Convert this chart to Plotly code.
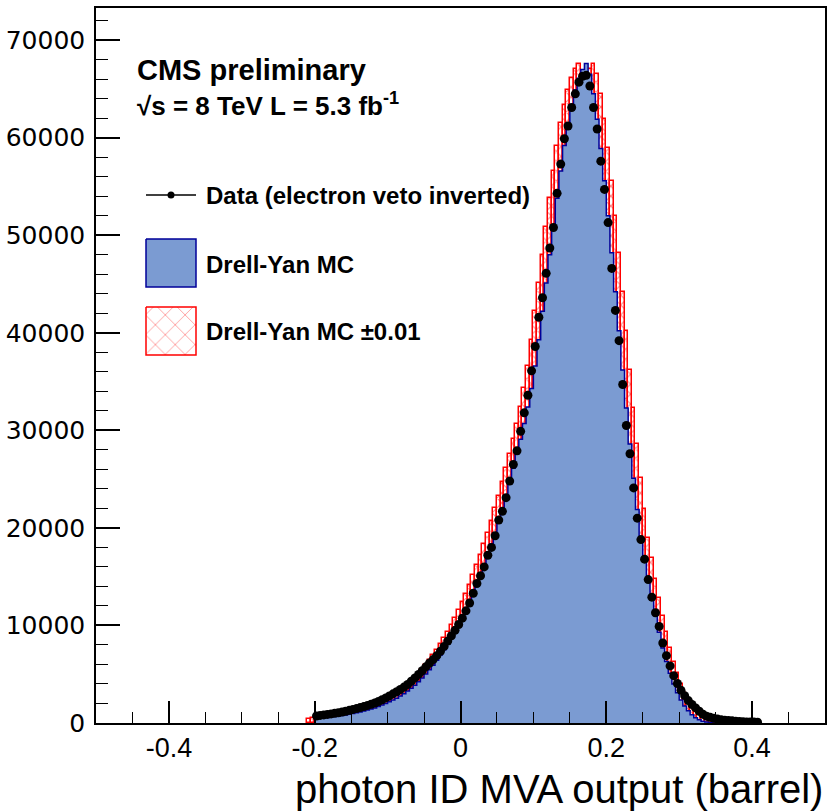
import plotly.graph_objects as go

# histogram binning (photon ID MVA output)
bin_lo = -0.2
bin_w = 0.005

# data (electron veto inverted), one value per bin starting at bin_lo
data_counts = [
    720, 780, 830, 880, 930, 990, 1050, 1120, 1200, 1300,
    1390, 1480, 1580, 1680, 1800, 1920, 2050, 2200, 2380, 2570,
    2780, 2990, 3200, 3430, 3680, 3950, 4280, 4620, 4980, 5360,
    5760, 6150, 6500, 6900, 7350, 7850, 8400, 8950, 9500, 10100,
    10750, 11500, 12300, 13300, 14300, 15100, 16000, 17200, 18000, 19200,
    20800, 21700, 23100, 24800, 26500, 27900, 29900, 31800, 33600, 36100,
    38600, 41600, 43600, 46100, 48700, 50800, 54300, 57300, 59900, 61200,
    63100, 64500, 65700, 66300, 66400, 65300, 63100, 60900, 57600, 54700,
    51300, 46600, 42300, 39200, 34700, 30500, 27600, 24100, 21000, 18800,
    16800, 14700, 12900, 11300, 9900, 8200, 6900, 5850, 4850, 4050,
    3350, 2800, 2300, 1900, 1550, 1200, 900, 700, 580, 480,
    400, 340, 290, 250, 220, 190, 160, 130, 110, 100,
    90, 80,
]

# Drell-Yan MC, same bins
mc_counts = [
    450, 490, 530, 570, 610, 660, 710, 770, 830, 900,
    970, 1050, 1130, 1220, 1320, 1430, 1550, 1690, 1840, 2000,
    2170, 2350, 2550, 2770, 3010, 3270, 3560, 3880, 4230, 4610,
    5020, 5460, 5930, 6430, 6960, 7520, 8110, 8730, 9380, 10060,
    10780, 11550, 12370, 13240, 14160, 15130, 16150, 17220, 18340, 19510,
    20730, 22000, 23320, 24690, 26110, 27580, 29100, 30700, 32400, 34300,
    36600, 39300, 42200, 45100, 48000, 50900, 53800, 56600, 59200, 61500,
    63400, 64900, 66100, 67000, 67600, 66500, 64500, 61900, 58900, 55600,
    52000, 48200, 44200, 40200, 36200, 32300, 28600, 25100, 21900, 19000,
    16900, 14800, 12800, 11000, 9300, 7700, 6300, 5100, 4000, 3100,
    2350, 1750, 1250, 850, 550, 330, 180, 90, 30, 0,
    0, 0, 0, 0, 0, 0, 0, 0, 0, 0,
    0, 0,
]

# MVA shift used for the systematic band (in bins: 0.01 / 0.005)
shift_bins = 2

x_tickvals = [-0.4, -0.2, 0, 0.2, 0.4]
x_ticktext = ["-0.4", "-0.2", "0", "0.2", "0.4"]
y_tickvals = [0, 10000, 20000, 30000, 40000, 50000, 60000, 70000]
y_ticktext = [str(v) for v in y_tickvals]

n = len(data_counts)
centers = [bin_lo + bin_w * (i + 0.5) for i in range(n)]
edges = [bin_lo + bin_w * i for i in range(n + 1)]

# band: MC shifted by +-0.01
pad = [0] * shift_bins
mc_pad = pad + pad + mc_counts + pad + pad
band_x, band_lo, band_h = [], [], []
for j in range(n + 2 * shift_bins):
    k = j + shift_bins
    a = mc_pad[k - shift_bins]
    b = mc_pad[k + shift_bins]
    lo, hi = min(a, b), max(a, b)
    if hi > lo:
        band_x.append(bin_lo + bin_w * (j - shift_bins + 0.5))
        band_lo.append(lo)
        band_h.append(hi - lo)

blue_fill = "#7b9bd2"
blue_line = "#000099"

fig = go.Figure()

# MC histogram (step, filled)
fig.add_trace(go.Scatter(
    x=[edges[0]] + edges[:-1] + [edges[-1]],
    y=[0] + mc_counts + [0],
    mode="lines", line=dict(shape="hv", color=blue_line, width=1.5),
    fill="tozeroy", fillcolor=blue_fill, showlegend=False,
))

# +-0.01 band
fig.add_trace(go.Bar(
    x=band_x, y=band_h, base=band_lo, width=bin_w,
    marker=dict(color="rgba(0,0,0,0)",
                line=dict(color="red", width=1.5),
                pattern=dict(shape="x", fgcolor="red", bgcolor="rgba(0,0,0,0)",
                             size=7, solidity=0.3)),
    showlegend=False,
))

# data
fig.add_trace(go.Scatter(
    x=centers, y=data_counts, mode="markers",
    marker=dict(color="black", size=9),
    error_x=dict(type="constant", value=bin_w / 2, thickness=1, width=0, color="black"),
    showlegend=False,
))

# legend drawn on a pixel-like overlay axis
lx = [146, 196]
fig.add_trace(go.Scatter(x=lx, y=[195, 195], mode="lines", line=dict(color="black", width=1.5),
                         xaxis="x2", yaxis="y2", showlegend=False))
fig.add_trace(go.Scatter(x=[171], y=[195], mode="markers", marker=dict(color="black", size=7),
                         xaxis="x2", yaxis="y2", showlegend=False))
fig.add_trace(go.Scatter(x=[146, 196, 196, 146, 146], y=[239, 239, 287, 287, 239],
                         mode="lines", fill="toself", fillcolor=blue_fill,
                         line=dict(color=blue_line, width=1.5),
                         xaxis="x2", yaxis="y2", showlegend=False))
fig.add_trace(go.Scatter(x=[146, 196, 196, 146, 146], y=[307, 307, 355, 355, 307],
                         mode="lines", fill="toself",
                         fillpattern=dict(shape="x", fgcolor="red", bgcolor="white",
                                          size=14, solidity=0.1),
                         line=dict(color="red", width=1.5),
                         xaxis="x2", yaxis="y2", showlegend=False))

leg_font = dict(family="Liberation Sans, Arial", size=24, color="black")
for txt, yy in [("<b>Data (electron veto inverted)</b>", 195),
                ("<b>Drell-Yan MC</b>", 264),
                ("<b>Drell-Yan MC ±0.01</b>", 331)]:
    fig.add_annotation(x=204, y=yy, xref="x2", yref="y2", text=txt, showarrow=False,
                       xanchor="left", yanchor="middle", font=leg_font)

fig.add_annotation(x=135, y=70, xref="x2", yref="y2", text="<b>CMS preliminary</b>",
                   showarrow=False, xanchor="left", yanchor="middle",
                   font=dict(family="Liberation Sans, Arial", size=29, color="black"))
fig.add_annotation(x=135, y=104, xref="x2", yref="y2",
                   text="<b>√s = 8 TeV L = 5.3 fb<sup>-1</sup></b>",
                   showarrow=False, xanchor="left", yanchor="middle",
                   font=dict(family="Liberation Sans, Arial", size=26, color="black"))

# x-axis title
fig.add_annotation(x=1, y=-0.092, xref="paper", yref="paper",
                   text="photon ID MVA output (barrel)",
                   showarrow=False, xanchor="right", yanchor="middle",
                   font=dict(family="Liberation Sans, Arial", size=40, color="black"))

fig.update_layout(
    width=827, height=812,
    margin=dict(l=96, r=2, t=8, b=89),
    paper_bgcolor="white", plot_bgcolor="white",
    barmode="overlay", bargap=0,
    xaxis=dict(range=[-0.5, 0.5], showgrid=False, zeroline=False, automargin=False,
               showline=True, linecolor="black", linewidth=1.5, mirror=True,
               ticks="inside", ticklen=22, tickwidth=1.5, tickcolor="black",
               tickmode="array", tickvals=x_tickvals, ticktext=x_ticktext,
               tickfont=dict(family="Liberation Sans, Arial", size=27, color="black"),
               minor=dict(ticks="inside", ticklen=11, tickwidth=1.2, tickcolor="black",
                          dtick=0.05, tick0=0, showgrid=False)),
    yaxis=dict(range=[0, 73300], showgrid=False, zeroline=False, automargin=False,
               showline=True, linecolor="black", linewidth=1.5, mirror=True,
               ticks="inside", ticklen=24, tickwidth=1.5, tickcolor="black",
               tickmode="array", tickvals=y_tickvals, ticktext=y_ticktext,
               tickfont=dict(family="DejaVu Sans", size=25, color="black"),
               ticklabelstandoff=4,
               minor=dict(ticks="inside", ticklen=12, tickwidth=1.2, tickcolor="black",
                          dtick=2000, tick0=0, showgrid=False)),
    xaxis2=dict(overlaying="x", range=[96, 825], visible=False),
    yaxis2=dict(overlaying="y", range=[723, 8], visible=False),
)

# page body has a default 8px margin; drop it so the figure sits at the window origin
fig.write_html("out.html", config={"displayModeBar": False},
               post_script="document.body.style.margin = '0';")
